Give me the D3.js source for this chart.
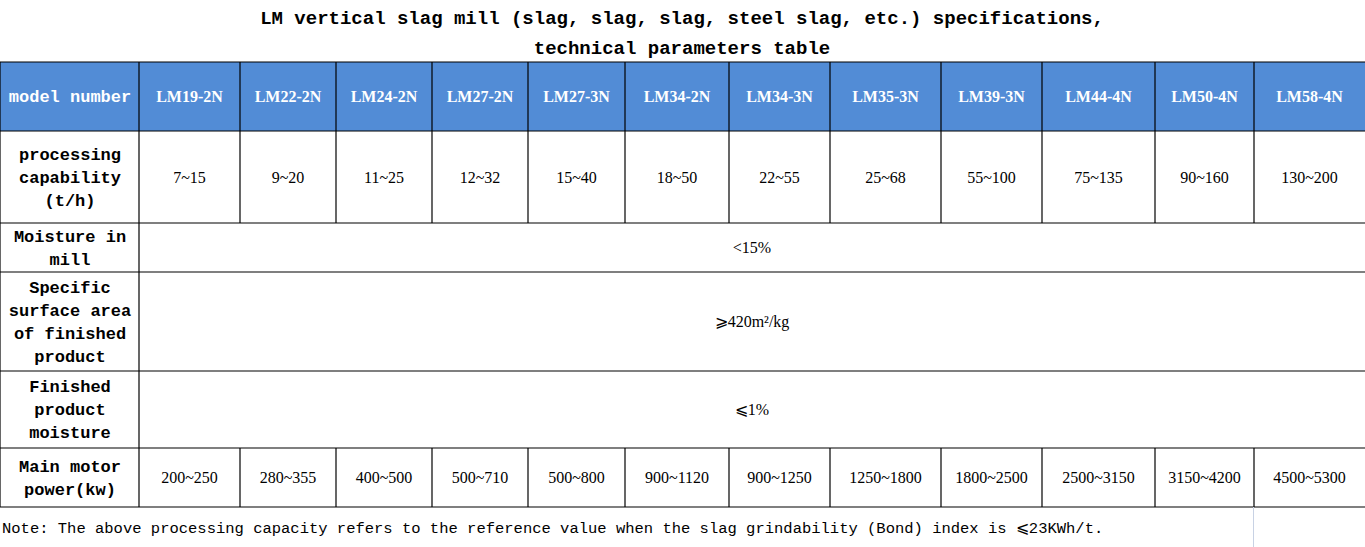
<!DOCTYPE html>
<html><head><meta charset="utf-8">
<script src="https://cdn.jsdelivr.net/npm/d3@7"></script>
<style>body{margin:0;background:#fff;}svg{display:block;}</style>
</head><body>
<script>
// data
var titleLines = ["LM vertical slag mill (slag, slag, slag, steel slag, etc.) specifications,", "technical parameters table"];
var models = ["LM19-2N","LM22-2N","LM24-2N","LM27-2N","LM27-3N","LM34-2N","LM34-3N","LM35-3N","LM39-3N","LM44-4N","LM50-4N","LM58-4N"];
var capacity = ["7~15","9~20","11~25","12~32","15~40","18~50","22~55","25~68","55~100","75~135","90~160","130~200"];
var power = ["200~250","280~355","400~500","500~710","500~800","900~1120","900~1250","1250~1800","1800~2500","2500~3150","3150~4200","4500~5300"];
var rowLabels = [["model number"],["processing","capability","(t/h)"],["Moisture in","mill"],["Specific","surface area","of finished","product"],["Finished","product","moisture"],["Main motor","power(kw)"]];
var spanValues = [null, null, "<15%", "\u2A7E420m\u00B2/kg", "\u2A7D1%", null];
var note = "Note: The above processing capacity refers to the reference value when the slag grindability (Bond) index is \u2A7D23KWh/t.";

var colEdges = [0,139,240,336,432,528,625,729,830,941,1042,1155,1254,1365];
var rowEdges = [62,131,223,272,371,448,507];
var mono = "'Liberation Mono','DejaVu Sans Mono',monospace";
var serif = "'Liberation Serif','DejaVu Serif',serif";

var svg = d3.select("body").append("svg").attr("width",1365).attr("height",547);

svg.selectAll(".title").data(titleLines).enter().append("text")
  .attr("x",682).attr("y",function(d,i){return 24+i*30;})
  .attr("text-anchor","middle").style("font-family",mono).style("font-size","19px").style("font-weight","bold")
  .text(function(d){return d;});

// header background
svg.append("rect").attr("x",0).attr("y",rowEdges[0]).attr("width",1365).attr("height",rowEdges[1]-rowEdges[0]).attr("fill","#528cd6");

var cx = function(i){return (colEdges[i+1]+colEdges[i+2])/2;};
var cy = function(r){return (rowEdges[r]+rowEdges[r+1])/2;};

// row labels
rowLabels.forEach(function(lines, r) {
  var n = lines.length, lh = 23;
  svg.append("g").selectAll("text").data(lines).enter().append("text")
    .attr("x",70).attr("y",function(d,i){return cy(r)+(i-(n-1)/2)*lh;})
    .attr("dy","0.35em").attr("text-anchor","middle")
    .style("font-family",mono).style("font-weight","bold").style("font-size","17px")
    .attr("fill", r===0 ? "#fff" : "#000")
    .text(function(d){return d;});
});

// model header
svg.append("g").selectAll("text").data(models).enter().append("text")
  .attr("x",function(d,i){return cx(i);}).attr("y",cy(0)).attr("dy","0.35em")
  .attr("text-anchor","middle").attr("fill","#fff")
  .style("font-family",serif).style("font-weight","bold").style("font-size","16px")
  .text(function(d){return d;});

[[1,capacity],[5,power]].forEach(function(p) {
  svg.append("g").selectAll("text").data(p[1]).enter().append("text")
    .attr("x",function(d,i){return cx(i);}).attr("y",cy(p[0])).attr("dy","0.35em")
    .attr("text-anchor","middle").style("font-family",serif).style("font-size","16px")
    .text(function(d){return d;});
});

spanValues.forEach(function(v, r) {
  if (!v) return;
  svg.append("text").attr("x",752).attr("y",cy(r)).attr("dy","0.35em")
    .attr("text-anchor","middle").style("font-family",serif).style("font-size","16px").text(v);
});

// grid lines
var grid = svg.append("g").attr("stroke","#000").attr("stroke-width",1.2);
rowEdges.forEach(function(y){
  grid.append("line").attr("x1",0).attr("x2",1365).attr("y1",y).attr("y2",y);
});
colEdges.slice(0,-1).forEach(function(x, i){
  var full = i <= 1;
  [0,1,5].forEach(function(r){
    grid.append("line").attr("x1",x).attr("x2",x).attr("y1",rowEdges[r]).attr("y2",rowEdges[r+1]);
  });
  if (full) {
    grid.append("line").attr("x1",x).attr("x2",x).attr("y1",rowEdges[2]).attr("y2",rowEdges[5]);
  }
});
svg.append("line").attr("x1",1253.5).attr("x2",1253.5).attr("y1",507).attr("y2",547).attr("stroke","#c8d2e4");

svg.append("text").attr("x",2).attr("y",533).style("font-family",mono).style("font-size","15.5px").text(note);
</script>
</body></html>
